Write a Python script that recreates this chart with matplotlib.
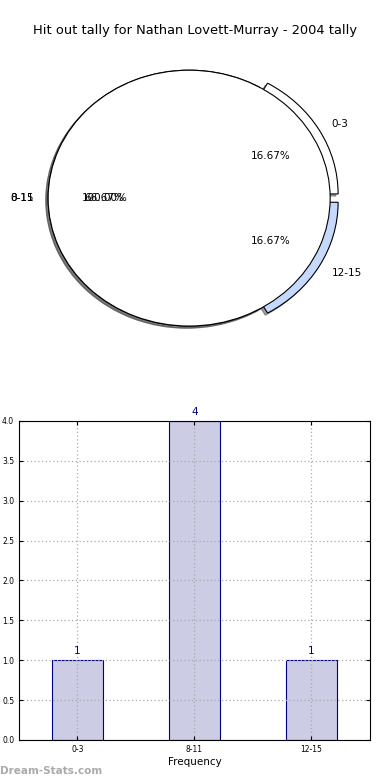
import numpy as np
import matplotlib
matplotlib.use("Agg")
import matplotlib.pyplot as plt

# data
categories = ["0-3", "8-11", "12-15"]
counts = [1, 4, 1]
total_label = "0-15"
pie_colors = ["white", "white", "#c6d9fc"]
explode = [0.065, 0.0, 0.065]

title = "Hit out tally for Nathan Lovett-Murray - 2004 tally"

fig = plt.figure(figsize=(3.9, 7.8), dpi=100)

# pie part (stretched, not equal aspect)
shadow_opts = {"ox": -0.012, "oy": -0.012}
ax1 = fig.add_axes([0.033, 0.541, 0.904, 0.410])
ax1.pie(counts, labels=categories, colors=pie_colors, explode=explode,
        autopct="%1.2f%%", shadow=shadow_opts, startangle=0,
        textprops={"fontsize": 7.5},
        wedgeprops={"linewidth": 0.8, "edgecolor": "black"})
# full pie drawn on top of the exploded one
ax1.pie([sum(counts)], labels=[total_label], colors=["white"], autopct="%1.2f%%",
        shadow=shadow_opts, startangle=0, textprops={"fontsize": 7.5},
        wedgeprops={"linewidth": 0.8, "edgecolor": "black"})
ax1.set_aspect("auto")
ax1.set_xlim(-1.25, 1.25)
ax1.set_ylim(-1.25, 1.25)
fig.text(0.5, 0.961, title, ha="center", va="center", fontsize=9.4)

# bar part
ax2 = fig.add_axes([0.0487, 0.0513, 0.9, 0.409])
x = np.arange(len(categories))
ax2.bar(x, counts, width=0.44, color="#ccccE4", edgecolor="#000080", linewidth=0.8, zorder=1)
for xi, c in zip(x, counts):
    ax2.text(xi, c + 0.05, str(c), ha="center", va="bottom", color="#000080", fontsize=7.5)
ax2.set_xlim(-0.5, 2.5)
ax2.set_ylim(0, 4)
ax2.set_yticks(np.arange(0, 4.01, 0.5))
ax2.set_xticks(x)
ax2.set_xticklabels(categories)
ax2.tick_params(labelsize=5.5, direction="in", top=True, right=True, length=3)
ax2.set_axisbelow(False)
ax2.grid(True, linestyle=(0, (1, 2)), color="#aaaaaa", linewidth=0.9, zorder=3)
for sp in ax2.spines.values():
    sp.set_zorder(4)
ax2.set_xlabel("Frequency", fontsize=7.5, labelpad=2)

fig.text(0.0, 0.005, "Dream-Stats.com", ha="left", va="bottom", fontsize=7.5,
         color="#aaaaaa", fontweight="bold")

fig.savefig("out.png", dpi=100)
